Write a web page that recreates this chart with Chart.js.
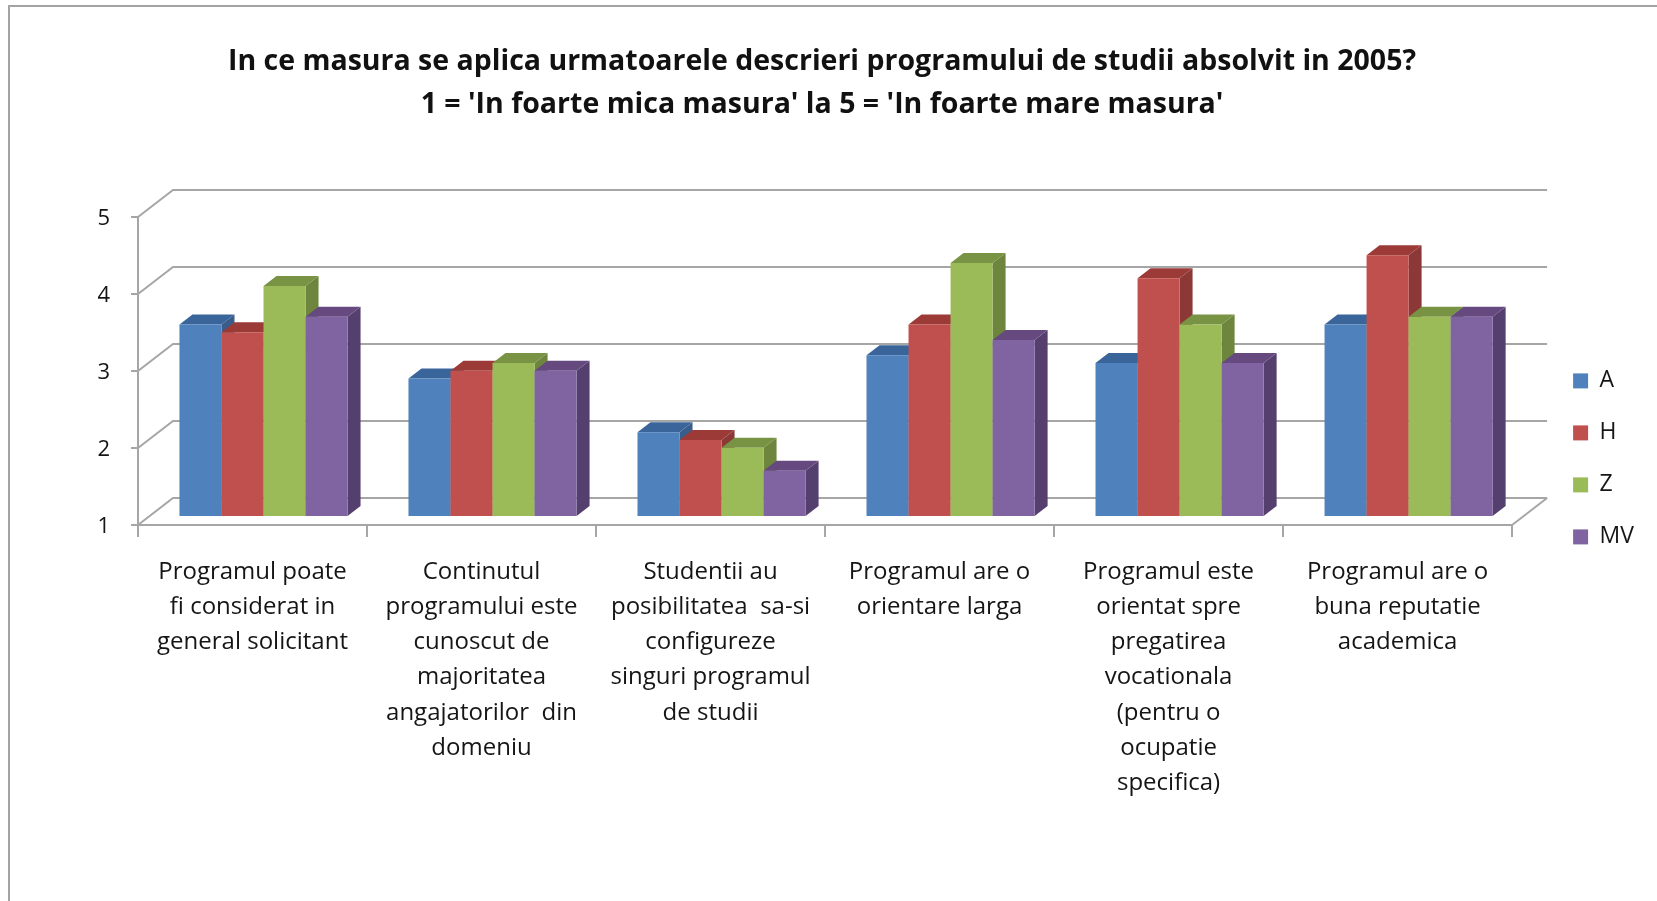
<!DOCTYPE html>
<html>
<head>
<meta charset="utf-8">
<script src="https://cdn.jsdelivr.net/npm/chart.js@4/dist/chart.umd.js"></script>
<style>
html, body { margin: 0; padding: 0; background: #fff; overflow: hidden; }
#wrap { position: absolute; left: 0; top: 0; width: 1657px; height: 901px; overflow: hidden; filter: blur(0.5px); }
#frame { position: absolute; left: 8px; top: 5px; width: 1700px; height: 1000px; border: 2px solid #a3a3a3; }
</style>
</head>
<body>
<div id="wrap">
<div id="frame"></div>
<canvas id="myChart" width="1657" height="901" style="position:absolute;left:0;top:0"></canvas>
</div>
<script>
const categories = [
    ['Programul poate', 'fi considerat in', 'general solicitant'],
    ['Continutul', 'programului este', 'cunoscut de', 'majoritatea', 'angajatorilor  din', 'domeniu'],
    ['Studentii au', 'posibilitatea  sa-si', 'configureze', 'singuri programul', 'de studii'],
    ['Programul are o', 'orientare larga'],
    ['Programul este', 'orientat spre', 'pregatirea', 'vocationala', '(pentru o', 'ocupatie', 'specifica)'],
    ['Programul are o', 'buna reputatie', 'academica']
];
const seriesA = [3.5, 2.8, 2.1, 3.1, 3.0, 3.5];
const seriesH = [3.4, 2.9, 2.0, 3.5, 4.1, 4.4];
const seriesZ = [4.0, 3.0, 1.9, 4.3, 3.5, 3.6];
const seriesMV = [3.6, 2.9, 1.6, 3.3, 3.0, 3.6];
const titleLines = [
    "In ce masura se aplica urmatoarele descrieri programului de studii absolvit in 2005?",
    "1 = 'In foarte mica masura' la 5 = 'In foarte mare masura'"
];

const gridColor = '#a6a6a6';
const textColor = '#151515';
// how far the back wall sits from the front plane, and how deep the bars are
const wall = { x: 35, y: -27 };
const barShift = { x: 11, y: -8 };
const barDepth = { x: 13, y: -10 };

function poly(ctx, color, pts) {
    ctx.fillStyle = color;
    ctx.beginPath();
    pts.forEach(function (p, i) {
        if (i === 0) ctx.moveTo(p[0], p[1]);
        else ctx.lineTo(p[0], p[1]);
    });
    ctx.closePath();
    ctx.fill();
}

function drawWall(chart) {
    const ctx = chart.ctx;
    const y = chart.scales.y;
    const left = chart.scales.x.left;
    const right = chart.scales.x.right;
    ctx.save();
    ctx.strokeStyle = gridColor;
    ctx.lineWidth = 2;
    y.ticks.forEach(function (t) {
        const py = y.getPixelForValue(t.value);
        ctx.beginPath();
        ctx.moveTo(left, py);
        ctx.lineTo(left + wall.x, py + wall.y);
        ctx.lineTo(right + wall.x, py + wall.y);
        ctx.stroke();
    });
    const py0 = y.getPixelForValue(y.min);
    ctx.beginPath();
    ctx.moveTo(right, py0);
    ctx.lineTo(right + wall.x, py0 + wall.y);
    ctx.stroke();
    ctx.restore();
}

// the bars have to be painted left to right so each front covers the side of the one before,
// the default order is the other way round
const boxPlugin = {
    id: 'box',
    beforeDatasetsDraw(chart) {
        const ctx = chart.ctx;
        drawWall(chart);
        ctx.save();
        ctx.translate(barShift.x, barShift.y);
        chart.data.datasets.forEach(function (ds, i) {
            const meta = chart.getDatasetMeta(i);
            meta.data.forEach(function (bar) {
                const l = bar.x - bar.width / 2;
                const r = bar.x + bar.width / 2;
                const dx = barDepth.x;
                const dy = barDepth.y;
                poly(ctx, ds.sideColor, [[r, bar.y], [r + dx, bar.y + dy], [r + dx, bar.base + dy], [r, bar.base]]);
                poly(ctx, ds.topColor, [[l, bar.y], [l + dx, bar.y + dy], [r + dx, bar.y + dy], [r, bar.y]]);
            });
            meta.controller.draw();
        });
        ctx.restore();
        return false;
    }
};

new Chart(document.getElementById('myChart').getContext('2d'), {
    type: 'bar',
    data: {
        labels: categories,
        datasets: [
            { label: 'A', data: seriesA, backgroundColor: '#4f81bd', sideColor: '#385d8a', topColor: '#3a659b' },
            { label: 'H', data: seriesH, backgroundColor: '#c0504d', sideColor: '#8c3836', topColor: '#9c3a38' },
            { label: 'Z', data: seriesZ, backgroundColor: '#9bbb59', sideColor: '#6d853d', topColor: '#779343' },
            { label: 'MV', data: seriesMV, backgroundColor: '#8064a2', sideColor: '#553f6f', topColor: '#65497f' }
        ]
    },
    options: {
        responsive: false,
        animation: false,
        base: 1,
        barPercentage: 1,
        categoryPercentage: 0.734,
        layout: { padding: { left: 0, right: 13, top: 40, bottom: 0 } },
        plugins: {
            title: {
                display: true,
                text: titleLines,
                color: '#111',
                font: { family: '"Open Sans"', size: 28.5, weight: 'bold', lineHeight: 1.51 },
                padding: { top: 0, bottom: 91 }
            },
            legend: {
                display: true,
                position: 'right',
                align: 'start',
                // blank title, pushes the entries down to the middle of the plot
                title: { display: true, text: ' ', font: { size: 12 }, padding: { top: 0, bottom: 286 } },
                labels: {
                    color: textColor,
                    font: { family: '"Open Sans"', size: 23 },
                    boxWidth: 15,
                    boxHeight: 15,
                    padding: 29
                }
            },
            tooltip: { enabled: false }
        },
        scales: {
            x: {
                grid: { offset: true, drawOnChartArea: false, drawTicks: true, tickLength: 12, color: gridColor, lineWidth: 2 },
                border: { color: gridColor, width: 2 },
                ticks: {
                    autoSkip: false,
                    maxRotation: 0,
                    minRotation: 0,
                    padding: 18,
                    color: textColor,
                    font: { family: '"Open Sans"', size: 24, lineHeight: 1.46 }
                },
                afterFit(scale) { scale.height = 901 - 525; }
            },
            y: {
                min: 1,
                max: 5,
                grid: { drawOnChartArea: false, drawTicks: true, tickLength: 7, color: gridColor, lineWidth: 2 },
                border: { color: gridColor, width: 2 },
                ticks: {
                    stepSize: 1,
                    padding: 21,
                    labelOffset: 2,
                    color: textColor,
                    font: { family: '"Open Sans"', size: 22 }
                },
                afterFit(scale) { scale.width = 138; }
            },
            // empty axis, only keeps the gap between the plot and the legend
            gap: {
                type: 'linear',
                position: 'right',
                grid: { display: false },
                border: { display: false },
                ticks: { display: false },
                afterFit(scale) { scale.width = 32; }
            }
        }
    },
    plugins: [boxPlugin]
});
</script>
</body>
</html>
